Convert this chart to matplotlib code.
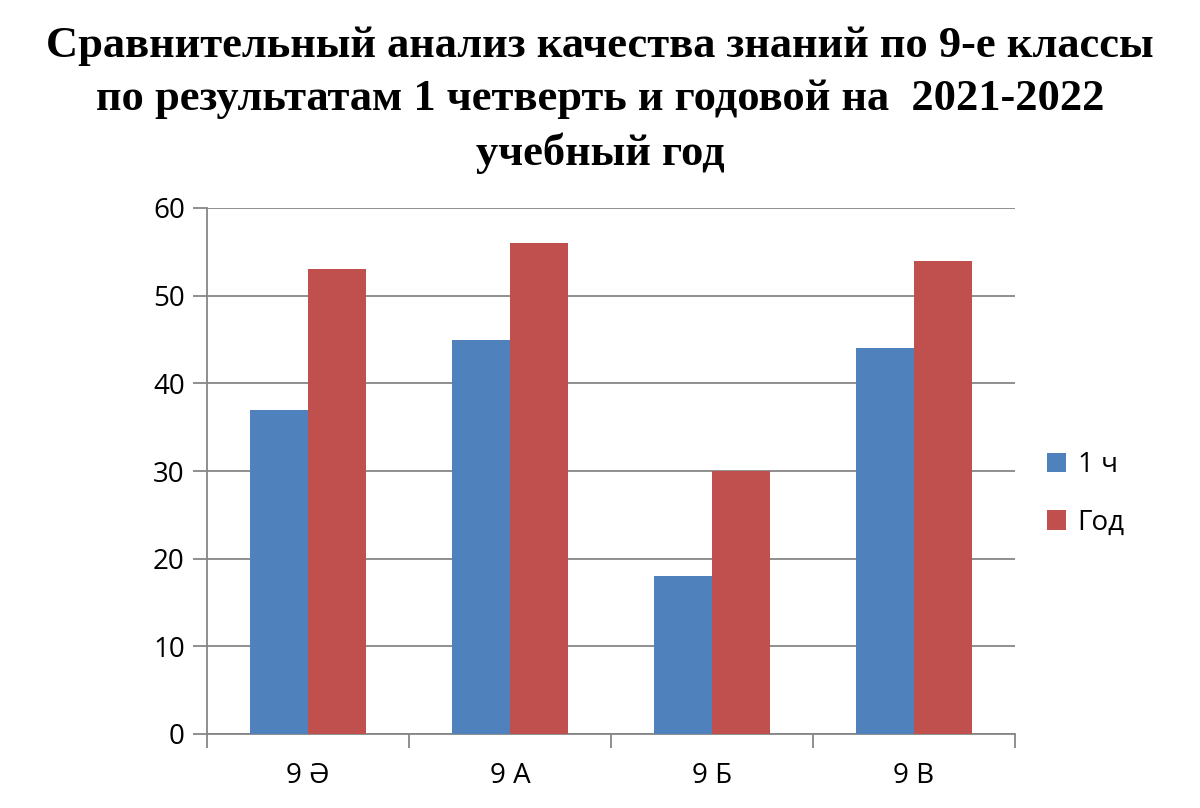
import matplotlib
matplotlib.use("Agg")
import matplotlib.pyplot as plt
import numpy as np

categories = ["9 Ә", "9 А", "9 Б", "9 В"]
series_names = ["1 ч", "Год"]
q1_values = [37, 45, 18, 44]
year_values = [53, 56, 30, 54]
yticks = [0, 10, 20, 30, 40, 50, 60]
title = "Сравнительный анализ качества знаний по 9-е классы\nпо результатам 1 четверть и годовой на  2021-2022\nучебный год"

colors = ["#4F81BD", "#C0504D"]
grid_color = "#868686"

plt.rcParams['font.family'] = ['Open Sans', 'DejaVu Sans']

fig = plt.figure(figsize=(12, 8.08), dpi=100)
W, H = 1200, 808
left, right, top, bottom = 207, 1015, 208, 734
ax = fig.add_axes([left / W, 1 - bottom / H, (right - left) / W, (bottom - top) / H])

x = np.arange(len(categories))
bw = 1 / 3.5
ax.bar(x - bw / 2, q1_values, bw, color=colors[0], label=series_names[0], zorder=3)
ax.bar(x + bw / 2, year_values, bw, color=colors[1], label=series_names[1], zorder=3)

ax.set_xlim(-0.5, len(categories) - 0.5)
ax.set_ylim(0, 60)
ax.set_yticks(yticks)
ax.set_yticklabels([str(t) for t in yticks], fontsize=20)
ax.yaxis.grid(True, color=grid_color, linewidth=1.3, zorder=0)
ax.set_axisbelow(True)

ax.set_xticks(x)
ax.set_xticklabels(categories, fontsize=20)
ax.tick_params(axis='x', length=0, pad=20)
ax.set_xticks(np.arange(-0.5, len(categories)), minor=True)
ax.tick_params(axis='x', which='minor', length=10, color=grid_color, width=1.3)
ax.tick_params(axis='y', length=10, color=grid_color, width=1.3, pad=6)

for s in ['top', 'right']:
    ax.spines[s].set_visible(False)
for s in ['left', 'bottom']:
    ax.spines[s].set_color(grid_color)
    ax.spines[s].set_linewidth(1.3)

fig.text(0.5, 1 - 100 / H, title, ha='center', va='center', fontsize=32,
         fontweight='bold', family='Liberation Serif', linespacing=1.42)

leg = fig.legend(loc='center left', bbox_to_anchor=(1022 / W, 1 - 494 / H), frameon=False,
                 fontsize=20, handlelength=0.7, handleheight=0.7, labelspacing=1.05,
                 handletextpad=0.4)

fig.savefig("out.png", dpi=100)
